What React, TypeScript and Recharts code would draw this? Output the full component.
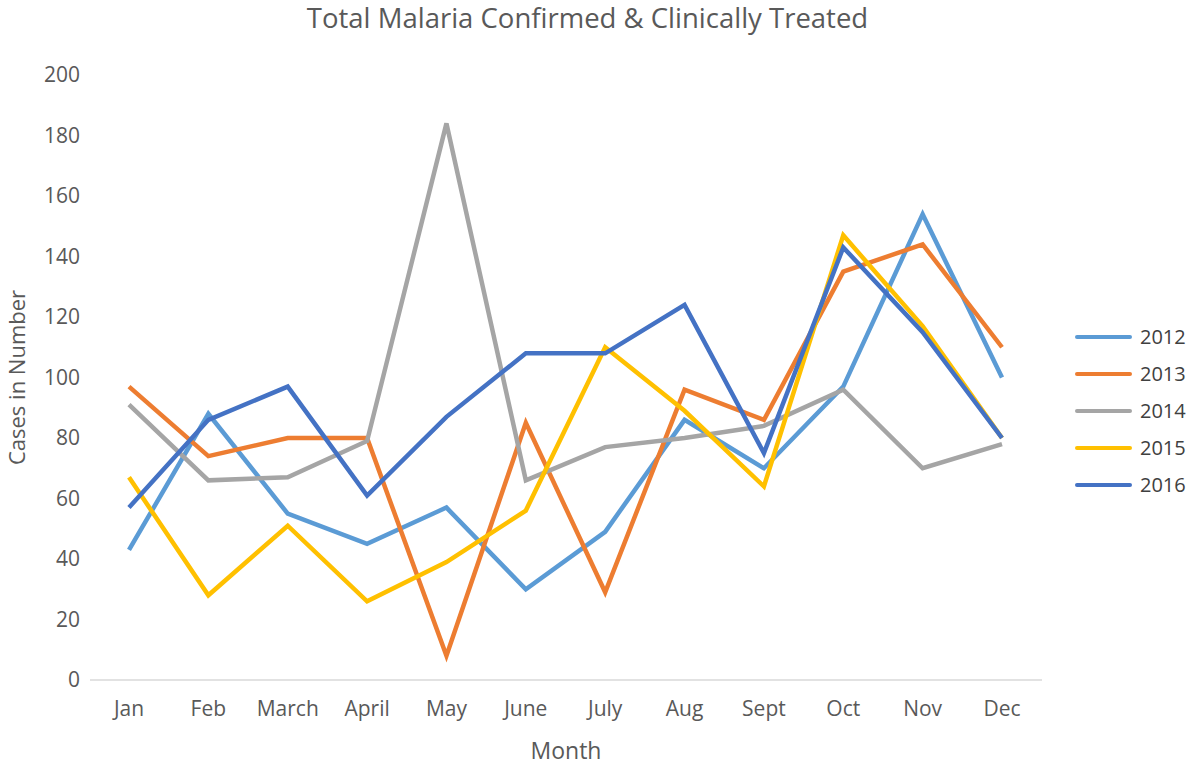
import React from "react";
import { CartesianGrid, Legend, Line, LineChart, XAxis, YAxis } from "recharts";

const months = ["Jan", "Feb", "March", "April", "May", "June", "July", "Aug", "Sept", "Oct", "Nov", "Dec"];
const y2012 = [43, 88, 55, 45, 57, 30, 49, 86, 70, 97, 154, 100];
const y2013 = [97, 74, 80, 80, 8, 85, 29, 96, 86, 135, 144, 110];
const y2014 = [91, 66, 67, 79, 184, 66, 77, 80, 84, 96, 70, 78];
const y2015 = [67, 28, 51, 26, 39, 56, 110, 89, 64, 147, 117, 80];
const y2016 = [57, 86, 97, 61, 87, 108, 108, 124, 75, 143, 115, 80];
const yTicks = [0, 20, 40, 60, 80, 100, 120, 140, 160, 180, 200];

const series = [
  { key: "2012", values: y2012, color: "#5b9bd5" },
  { key: "2013", values: y2013, color: "#ed7d31" },
  { key: "2014", values: y2014, color: "#a5a5a5" },
  { key: "2015", values: y2015, color: "#ffc000" },
  { key: "2016", values: y2016, color: "#4472c4" },
];

const data = months.map((month, i) => {
  const row: Record<string, string | number> = { month };
  series.forEach((s) => (row[s.key] = s.values[i]));
  return row;
});

const textColor = "#595959";

function LegendBox({ payload }: any) {
  return (
    <div>
      {(payload || []).map((item: any) => (
        <div key={item.value} style={{ display: "flex", alignItems: "center", height: 37 }}>
          <div style={{ width: 57, height: 4, background: item.color, borderRadius: 2 }} />
          <span style={{ marginLeft: 8, fontSize: 20, color: "#404040" }}>{item.value}</span>
        </div>
      ))}
    </div>
  );
}

export default function App() {
  return (
    <div style={{ position: "absolute", left: 0, top: 0, width: 1187, height: 767, fontFamily: "'Open Sans', sans-serif", background: "#fff" }}>
      <div style={{ position: "absolute", left: 0, top: 0, width: 1175, textAlign: "center", fontSize: 27.5, lineHeight: "36px", color: textColor }}>
        Total Malaria Confirmed &amp; Clinically Treated
      </div>
      <LineChart width={1187} height={767} data={data} margin={{ top: 75, right: 33, bottom: 0, left: 0 }}>
        <CartesianGrid horizontal={false} vertical={false} />
        <XAxis
          dataKey="month"
          height={87}
          padding={{ left: 39, right: 40 }}
          tickLine={false}
          tickSize={0}
          tickMargin={21}
          axisLine={{ stroke: "#d9d9d9", strokeWidth: 1.5 }}
          tick={{ fill: textColor, fontSize: 21 }}
          label={{ value: "Month", position: "insideBottom", offset: 8, fill: textColor, fontSize: 23 }}
        />
        <YAxis
          width={90}
          domain={[0, 200]}
          ticks={yTicks}
          tickLine={false}
          axisLine={false}
          tickSize={0}
          tickMargin={10}
          tick={{ fill: textColor, fontSize: 21 }}
          label={{ value: "Cases in Number", angle: -90, position: "insideLeft", offset: 17, fill: textColor, fontSize: 22, style: { textAnchor: "middle" } }}
        />
        <Legend
          layout="vertical"
          align="right"
          verticalAlign="middle"
          content={<LegendBox />}
          wrapperStyle={{ position: "absolute", left: 1075, top: 318, width: 112 }}
        />
        {series.map((s) => (
          <Line
            key={s.key}
            dataKey={s.key}
            name={s.key}
            type="linear"
            stroke={s.color}
            strokeWidth={4.5}
            dot={false}
            isAnimationActive={false}
          />
        ))}
      </LineChart>
    </div>
  );
}
